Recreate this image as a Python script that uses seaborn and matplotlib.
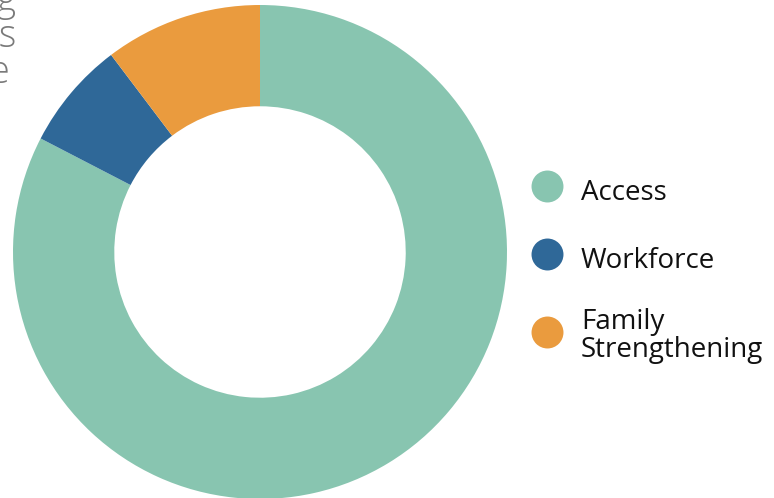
import matplotlib
matplotlib.use("Agg")
import matplotlib.pyplot as plt
from matplotlib.lines import Line2D
import seaborn as sns

# share of funding by focus area
categories = ["Access", "Workforce", "Family\nStrengthening"]
shares = [82.6, 7.1, 10.3]
colors = ["#88C5B0", "#2F6898", "#EA9B3E"]

# cut-off paragraph lines peeking in from the left edge
side_lines = ["funding", "programs", "we serve the"]

sns.set_theme(style="white")
plt.rcParams["font.family"] = ["Open Sans", "DejaVu Sans"]

fig = plt.figure(figsize=(7.74, 4.98), dpi=100)
ax = fig.add_axes([13 / 774, -1 / 498, 494 / 774, 494 / 498])

# pie goes clockwise from 12 o'clock, Access first
wedges, _ = ax.pie(
    shares,
    colors=colors,
    startangle=90,
    counterclock=False,
    radius=1.0,
    wedgeprops=dict(width=0.41, edgecolor="none"),
)
ax.set_xlim(-1, 1)
ax.set_ylim(-1, 1)
ax.set_aspect("equal")
ax.axis("off")

handles = [
    Line2D([0], [0], marker="o", linestyle="none", markersize=23,
           markerfacecolor=c, markeredgecolor="none")
    for c in colors
]
# taller handle box so single-line rows sit closer to the two-line one
leg = fig.legend(
    handles, categories,
    loc="upper left",
    bbox_to_anchor=(528 / 774, 1 - 172 / 498),
    frameon=False,
    fontsize=20,
    handletextpad=0.5,
    labelspacing=1.06,
    handlelength=1.4,
    handleheight=1.76,
    borderaxespad=0,
    borderpad=0,
)
for t in leg.get_texts():
    t.set_color("#111111")
    t.set_fontweight("medium")
    t.set_linespacing(1.0)

# clipped text on the left
baselines = [11, 47, 83]
right_edges = [17, 17, 10]
for line, yb, xr in zip(side_lines, baselines, right_edges):
    fig.text(xr / 774, 1 - yb / 498, line, ha="right", va="baseline",
             fontsize=27, color="#7a7a7a", fontweight="light")

fig.savefig("out.png", dpi=100)
